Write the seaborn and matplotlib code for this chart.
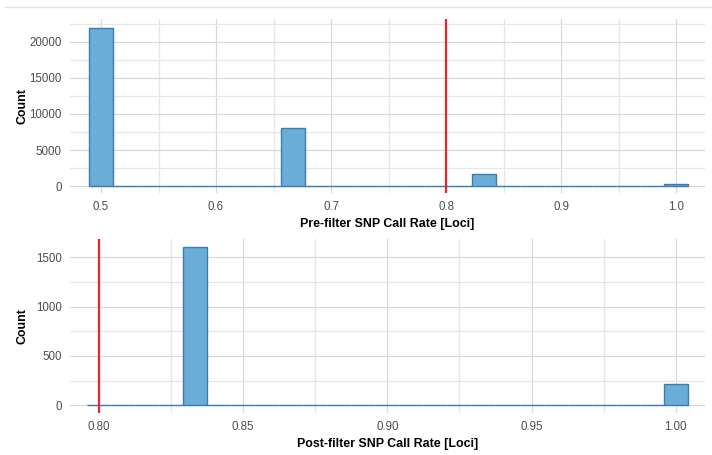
import numpy as np
import pandas as pd
import matplotlib
matplotlib.use("Agg")
import matplotlib.pyplot as plt
from matplotlib.lines import Line2D
from matplotlib.ticker import MultipleLocator
import seaborn as sns

# ---- data ----
pre_call_rate = [0.5, 2/3, 5/6, 1.0]
pre_counts = [22000, 8000, 1600, 213]
post_call_rate = [5/6, 1.0]
post_counts = [1600, 213]
threshold = 0.8

pre_xticks = [0.5, 0.6, 0.7, 0.8, 0.9, 1.0]
pre_xticklabels = ["0.5", "0.6", "0.7", "0.8", "0.9", "1.0"]
pre_yticks = [0, 5000, 10000, 15000, 20000]
post_xticks = [0.80, 0.85, 0.90, 0.95, 1.00]
post_xticklabels = ["0.80", "0.85", "0.90", "0.95", "1.00"]
post_yticks = [0, 500, 1000, 1500]

sns.set_theme(style="white")
plt.rcParams["font.family"] = ["Liberation Sans", "DejaVu Sans"]

FILL = "#6aadd6"
EDGE = "#3a7db3"
RED = "#e5262b"
GRID_MAJ = "#d9d9d9"
GRID_MIN = "#e6e6e6"
TICK_COL = "#4d4d4d"

fig = plt.figure(figsize=(7.12, 4.55), dpi=100)
ax1 = fig.add_axes([70/712, 1-193/455, 635/712, 174/455])
ax2 = fig.add_axes([70/712, 1-413/455, 635/712, 174/455])

fig.add_artist(Line2D([5/712, 1.0], [1-7/455, 1-7/455], color="#e3e3e3", lw=1.0))

pre_df = pd.DataFrame({"rate": pre_call_rate, "n": pre_counts})
post_df = pd.DataFrame({"rate": post_call_rate, "n": post_counts})

w1 = 1/48
bins1 = [float(b) for b in (0.5 - w1/2 + w1*np.arange(26))]
w2 = 1/120
bins2 = [float(b) for b in (5/6 - w2/2 - 4*w2 + w2*np.arange(26))]

def draw(ax, df, bins, xlim, ylim, xticks, xlabels, yticks, minor_x, minor_y, xlabel):
    sns.histplot(data=df, x="rate", weights="n", bins=bins, ax=ax,
                 color=FILL, edgecolor=EDGE, linewidth=1.0, alpha=1.0, zorder=3)
    ax.axvline(threshold, color=RED, lw=1.6, zorder=4)
    ax.set_xlim(*xlim)
    ax.set_ylim(*ylim)
    ax.set_xticks(xticks)
    ax.set_xticklabels(xlabels)
    ax.set_yticks(yticks)
    ax.xaxis.set_minor_locator(MultipleLocator(minor_x))
    ax.yaxis.set_minor_locator(MultipleLocator(minor_y))
    ax.grid(True, which="major", color=GRID_MAJ, lw=0.9, zorder=0)
    ax.grid(True, which="minor", color=GRID_MIN, lw=0.9, zorder=0)
    ax.set_axisbelow(True)
    for s in ax.spines.values():
        s.set_visible(False)
    ax.tick_params(axis="both", which="both", length=0, labelsize=8.3,
                   labelcolor=TICK_COL, pad=6)
    ax.set_xlabel(xlabel, fontsize=8.9, fontweight="bold", color="black", labelpad=3)
    ax.set_ylabel("Count", fontsize=8.9, fontweight="bold", color="black")
    ax.yaxis.set_label_coords((28 - 70) / 635, 0.5)

draw(ax1, pre_df, bins1, (0.4730, 1.0252), (-972, 23194), pre_xticks, pre_xticklabels,
     pre_yticks, 0.05, 2500, "Pre-filter SNP Call Rate [Loci]")
draw(ax2, post_df, bins2, (0.78995, 1.01016), (-78, 1685), post_xticks, post_xticklabels,
     post_yticks, 0.025, 250, "Post-filter SNP Call Rate [Loci]")

fig.savefig("out.png", dpi=100, facecolor="white")
